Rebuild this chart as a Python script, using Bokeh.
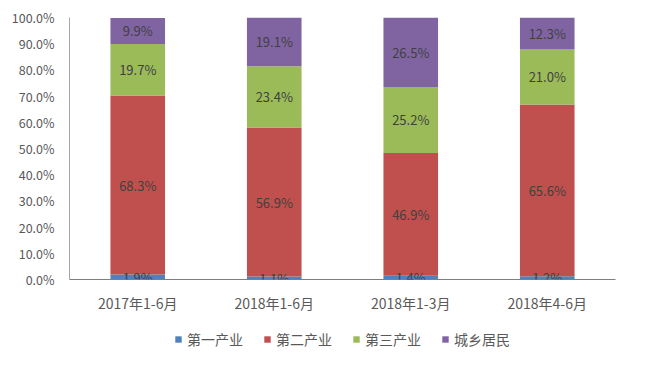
from bokeh.plotting import figure
from bokeh.layouts import column
from bokeh.models import ColumnDataSource, FactorRange, Legend, LegendItem, FixedTicker, LabelSet, CustomJSTickFormatter
from bokeh.core.properties import value
from bokeh.embed import file_html
from bokeh.resources import INLINE

periods = ["2017年1-6月", "2018年1-6月", "2018年1-3月", "2018年4-6月"]
series = ["第一产业", "第二产业", "第三产业", "城乡居民"]
primary = [1.9, 1.1, 1.4, 1.2]
secondary = [68.3, 56.9, 46.9, 65.6]
tertiary = [19.7, 23.4, 25.2, 21.0]
residents = [9.9, 19.1, 26.5, 12.3]
colors = ["#4F81BD", "#C0504D", "#9BBB59", "#8064A2"]
y_ticks = [0, 10, 20, 30, 40, 50, 60, 70, 80, 90, 100]

FONT = "Noto Sans CJK SC"
keys = ["s0", "s1", "s2", "s3"]
vals = [primary, secondary, tertiary, residents]
data = {"period": periods}
for k, v in zip(keys, vals):
    data[k] = v
src = ColumnDataSource(data)

p = figure(x_range=FactorRange(*periods), y_range=(0, 100), width=651, height=322,
           output_backend="svg", toolbar_location=None,
           min_border_left=69, min_border_right=13, min_border_top=17, min_border_bottom=43)
p.outline_line_color = None
p.border_fill_color = "white"
p.vbar_stack(keys, x="period", width=0.4, source=src, color=colors, line_color=None)

# data labels
cum = [0.0] * len(periods)
for k, v in zip(keys, vals):
    ys = [c + x / 2 for c, x in zip(cum, v)]
    cum = [c + x for c, x in zip(cum, v)]
    lsrc = ColumnDataSource(dict(x=periods, y=ys, t=[f"{x:.1f}%" for x in v]))
    p.add_layout(LabelSet(x="x", y="y", text="t", source=lsrc, text_align="center",
                          text_baseline="middle", text_font=value(FONT), text_font_size="13px",
                          text_color="#404040"))

p.xgrid.visible = False
p.ygrid.visible = False
p.yaxis.ticker = FixedTicker(ticks=y_ticks)
p.yaxis.formatter = CustomJSTickFormatter(code="return tick.toFixed(1) + '%'")
for ax in (p.xaxis, p.yaxis):
    ax.major_label_text_font = FONT
    ax.major_label_text_color = "#595959"
    ax.major_tick_line_color = None
    ax.minor_tick_line_color = None
p.xaxis.major_label_text_font_size = "14px"
p.yaxis.major_label_text_font_size = "12.5px"
p.xaxis.axis_line_color = "#7f7f7f"
p.yaxis.axis_line_color = "#a6a6a6"
p.xaxis.major_label_standoff = 7
p.yaxis.major_label_standoff = 9
p.x_range.range_padding = 0

# legend strip: same stacked data, drawn outside its visible range so only the swatches show
lg = figure(width=651, height=34, output_backend="svg", toolbar_location=None,
            min_border=0, min_border_right=36, x_range=FactorRange(*periods), y_range=(1000, 1001))
lg.axis.visible = False
lg.grid.visible = False
lg.outline_line_color = None
lrs = lg.vbar_stack(keys, x="period", width=0.4, source=src, color=colors, line_color=None)
items = [LegendItem(label=s, renderers=[r]) for s, r in zip(series, lrs)]
legend = Legend(items=items, orientation="horizontal", location="center", border_line_color=None,
                background_fill_alpha=0, label_text_font=FONT, label_text_font_size="14px",
                label_text_color="#595959", glyph_width=8, glyph_height=8, spacing=20,
                label_standoff=5, padding=0, margin=0)
lg.add_layout(legend, "center")

layout = column(p, lg, spacing=0)
open("out.html", "w").write(file_html(layout, INLINE))
